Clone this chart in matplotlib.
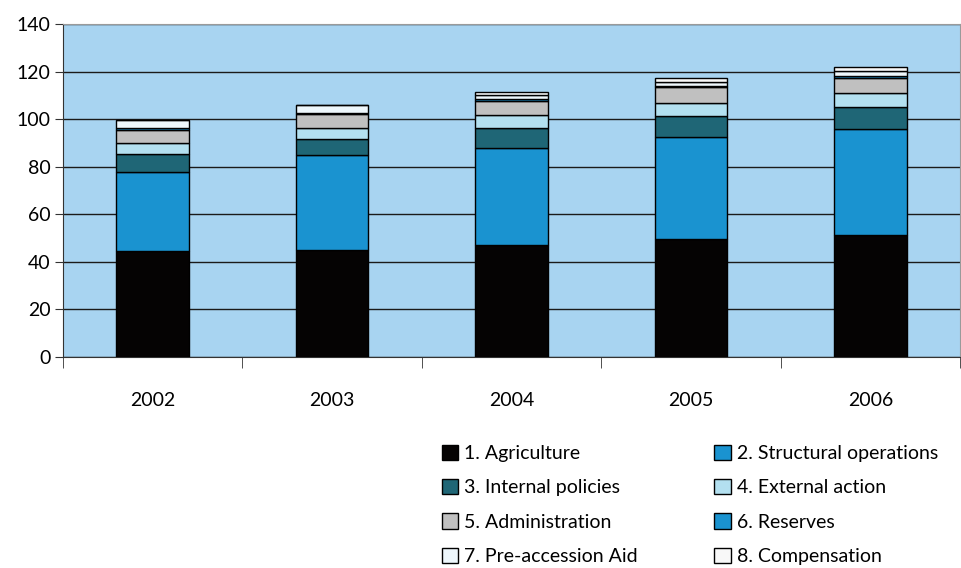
import matplotlib
matplotlib.use("Agg")
import matplotlib.pyplot as plt
import numpy as np

plt.rcParams['font.family'] = ['Lato', 'DejaVu Sans']

years = ['2002', '2003', '2004', '2005', '2006']
labels = ['1. Agriculture', '2. Structural operations', '3. Internal policies',
          '4. External action', '5. Administration', '6. Reserves',
          '7. Pre-accession Aid', '8. Compensation']

agriculture = [44.5, 45.0, 47.0, 49.8, 51.3]
structural = [33.2, 39.9, 40.8, 42.6, 44.4]
internal = [7.6, 6.6, 8.6, 8.9, 9.6]
external = [4.6, 4.9, 5.4, 5.5, 5.6]
administration = [5.5, 5.8, 6.0, 6.7, 6.6]
reserves = [0.8, 0.4, 0.8, 0.5, 0.6]
pre_accession = [3.5, 3.4, 1.5, 1.8, 2.2]
compensation = [0.0, 0.0, 1.4, 1.3, 1.5]

series = [agriculture, structural, internal, external,
          administration, reserves, pre_accession, compensation]
colours = ['#050303', '#1a93d0', '#1f6676', '#b3e0f0',
           '#c0c0c0', '#1a93d0', '#eef7fc', '#f8f8f8']

fig = plt.figure(figsize=(9.61, 5.68), dpi=100)
ax = fig.add_axes([63 / 961, 1 - 357 / 568, 897 / 961, 333 / 568])
ax.set_facecolor('#a8d4f1')

x = np.arange(len(years))
bottom = np.zeros(len(years))
handles = []
for vals, col, lab in zip(series, colours, labels):
    b = ax.bar(x, vals, width=0.405, bottom=bottom, color=col,
               edgecolor='black', linewidth=1, label=lab, zorder=3)
    handles.append(b)
    bottom += np.array(vals)

ax.set_xlim(-0.5, len(years) - 0.5)
ax.set_ylim(0, 140)
ax.set_yticks(range(0, 141, 20))
ax.yaxis.grid(True, color='#1a1a1a', linewidth=1, zorder=1)
ax.set_axisbelow(True)

ax.set_xticks(x)
ax.set_xticklabels(years, fontsize=14)
ax.tick_params(axis='x', length=0, pad=25)
ax.set_xticks(np.arange(-0.5, len(years)), minor=True)
ax.tick_params(axis='x', which='minor', length=8, color='#333333')
ax.tick_params(axis='y', labelsize=14, length=6, color='#333333', pad=3)

for side in ['top', 'right']:
    ax.spines[side].set_color('#9a9a9a')
for side in ['left', 'bottom']:
    ax.spines[side].set_color('#333333')

order = [0, 2, 4, 6, 1, 3, 5, 7]
fig.legend([handles[i] for i in order], [labels[i] for i in order],
           ncol=2, loc='upper left', bbox_to_anchor=(424 / 961, 1 - 427 / 568),
           frameon=False, fontsize=14, handlelength=0.85, handleheight=0.85,
           handletextpad=0.3, columnspacing=3.95, labelspacing=0.87)

fig.savefig('out.png', dpi=100)
